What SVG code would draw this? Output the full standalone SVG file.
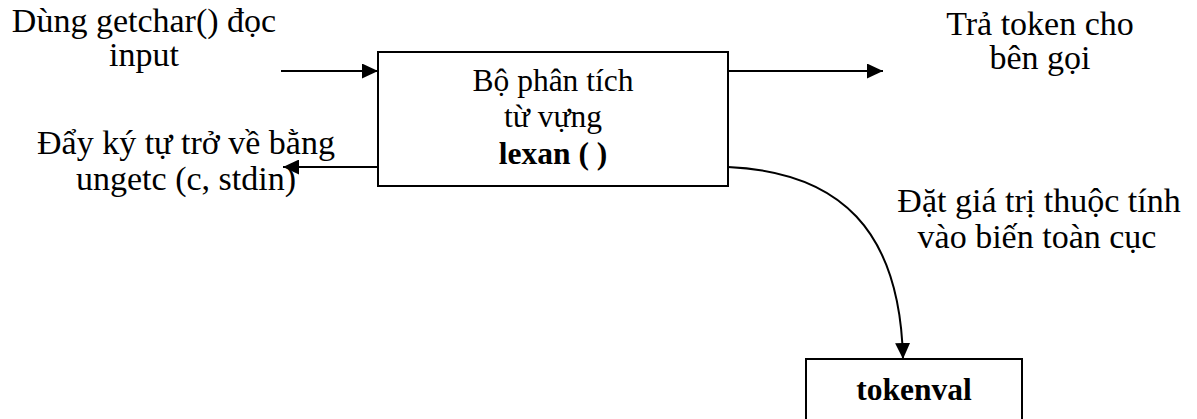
<svg xmlns="http://www.w3.org/2000/svg" width="1197" height="419" viewBox="0 0 1197 419">
  <style>
    .label { font-family: "Liberation Serif", "Times New Roman", serif; font-size: 34px; fill: #000; text-anchor: middle; }
    .inner { font-family: "Liberation Serif", "Times New Roman", serif; font-size: 31.5px; fill: #000; text-anchor: middle; }
    .bold { font-weight: bold; }
    .box { fill: #fff; stroke: #000; stroke-width: 2; }
    .edge { fill: none; stroke: #000; stroke-width: 2; }
  </style>
  <defs>
    <marker id="arrow" viewBox="0 0 16 15" refX="16" refY="7.5" markerWidth="16" markerHeight="15" markerUnits="userSpaceOnUse" orient="auto">
      <path d="M0,0 L16,7.5 L0,15 Z" fill="#000"/>
    </marker>
  </defs>

  <rect width="1197" height="419" fill="#fff"/>

  <!-- lexical analyser -->
  <g id="lexan">
    <rect class="box" x="378" y="52" width="350" height="134"/>
    <text class="inner" x="553" y="91">Bộ phân tích</text>
    <text class="inner" x="553" y="127">từ vựng</text>
    <text class="inner bold" x="553" y="164">lexan ( )</text>
  </g>

  <!-- global attribute variable -->
  <g id="tokenval">
    <rect class="box" x="806" y="359" width="216" height="62"/>
    <text class="inner bold" x="914" y="400">tokenval</text>
  </g>

  <!-- free-standing labels -->
  <g id="input-label">
    <text class="label" x="144" y="32">Dùng getchar() đọc</text>
    <text class="label" x="144" y="66">input</text>
  </g>
  <g id="return-label">
    <text class="label" x="1040" y="35">Trả token cho</text>
    <text class="label" x="1040" y="69">bên gọi</text>
  </g>
  <g id="pushback-label">
    <text class="label" x="186" y="154">Đẩy ký tự trở về bằng</text>
    <text class="label" x="186" y="190">ungetc (c, stdin)</text>
  </g>
  <g id="attr-label">
    <text class="label" x="1039" y="212">Đặt giá trị thuộc tính</text>
    <text class="label" x="1037" y="248">vào biến toàn cục</text>
  </g>

  <!-- connectors -->
  <g id="connectors">
    <line class="edge" x1="281" y1="71" x2="378" y2="71" marker-end="url(#arrow)"/>
    <line class="edge" x1="728" y1="71" x2="883" y2="71" marker-end="url(#arrow)"/>
    <line class="edge" x1="378" y1="167" x2="283" y2="167" marker-end="url(#arrow)"/>
    <path class="edge" d="M728,167 C840,172 900,230 903,359" marker-end="url(#arrow)"/>
  </g>
</svg>
